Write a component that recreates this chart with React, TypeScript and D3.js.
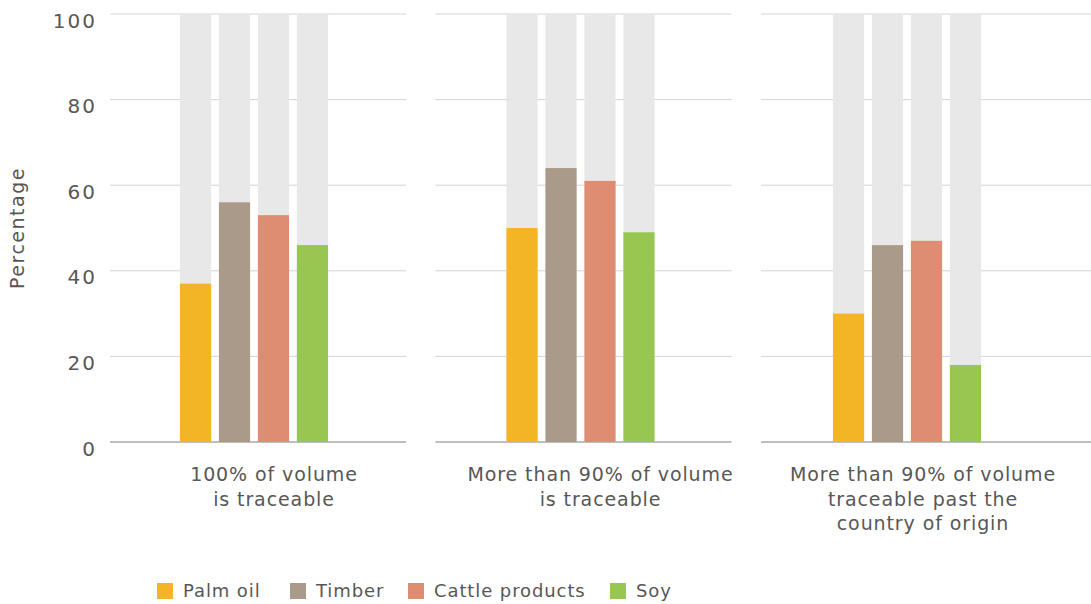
import React from "react";
import * as d3 from "d3";

const groups = [
  ["100% of volume", "is traceable"],
  ["More than 90% of volume", "is traceable"],
  ["More than 90% of volume", "traceable past the", "country of origin"],
];
const series = ["Palm oil", "Timber", "Cattle products", "Soy"];
const colors = ["#f3b425", "#aa9a89", "#df8d72", "#97c651"];
const palmOil = [37, 50, 30];
const timber = [56, 64, 46];
const cattle = [53, 61, 47];
const soy = [46, 49, 18];
const yTicks = [0, 20, 40, 60, 80, 100];

const values = [palmOil, timber, cattle, soy];

const W = 1091;
const H = 604;
const FONT = "'DejaVu Sans', sans-serif";
const TEXT = "#575757";

export default function App() {
  const y = d3.scaleLinear().domain([0, 100]).range([442, 14]);
  const panel = d3.scaleBand<number>().domain([0, 1, 2]).range([110, 1057]).paddingInner(0.0906);
  const groupShift = d3.scalePoint<number>().domain([0, 1, 2]).range([0, 653]);
  const inner = d3.scaleBand<number>().domain([0, 1, 2, 3]).range([178, 330]).paddingInner(0.2).paddingOuter(0.05);

  const legendX = [157, 290, 408, 610];

  return (
    <div style={{ position: "fixed", left: 0, top: 0 }}>
      <svg width={W} height={H} style={{ display: "block", background: "#fff" }} fontFamily={FONT}>
        {groups.map((lines, g) => {
          const x0 = panel(g) as number;
          const x1 = g === 2 ? W : x0 + panel.bandwidth();
          const off = groupShift(g) as number;
          const center = inner(0)! + off + (inner(3)! + inner.bandwidth() - inner(0)!) / 2;
          const labelX = center + (g === 2 ? 16 : 20);
          return (
            <g key={g}>
              {yTicks.map((t) => (
                <line
                  key={t}
                  x1={x0}
                  x2={x1}
                  y1={y(t)}
                  y2={y(t)}
                  stroke={t === 0 ? "#a8a8a8" : "#d3d3d3"}
                  strokeWidth={t === 0 ? 1.5 : 1}
                />
              ))}
              {series.map((s, i) => {
                const bx = (inner(i) as number) + off;
                const v = values[i][g];
                return (
                  <g key={s}>
                    <rect x={bx} y={y(100)} width={inner.bandwidth()} height={y(0) - y(100)} fill="#e8e8e8" />
                    <rect x={bx} y={y(v)} width={inner.bandwidth()} height={y(0) - y(v)} fill={colors[i]} />
                  </g>
                );
              })}
              <text x={labelX} y={481} textAnchor="middle" fontSize={19} letterSpacing={0.9} fill={TEXT}>
                {lines.map((l, k) => (
                  <tspan key={k} x={labelX} dy={k === 0 ? 0 : 24.5}>
                    {l}
                  </tspan>
                ))}
              </text>
            </g>
          );
        })}
        {yTicks.map((t) => (
          <text key={t} x={97} y={y(t) + 8} textAnchor="end" dominantBaseline="middle" fontSize={20} letterSpacing={2} fill={TEXT}>
            {t}
          </text>
        ))}
        <text
          transform={`translate(24,${228}) rotate(-90)`}
          textAnchor="middle"
          fontSize={19}
          letterSpacing={1.5}
          fill={TEXT}
        >
          Percentage
        </text>
        {series.map((s, i) => (
          <g key={s}>
            <rect x={legendX[i]} y={583} width={16} height={16} fill={colors[i]} />
            <text x={legendX[i] + 26} y={597} fontSize={18} letterSpacing={0.9} fill={TEXT}>
              {s}
            </text>
          </g>
        ))}
      </svg>
    </div>
  );
}
